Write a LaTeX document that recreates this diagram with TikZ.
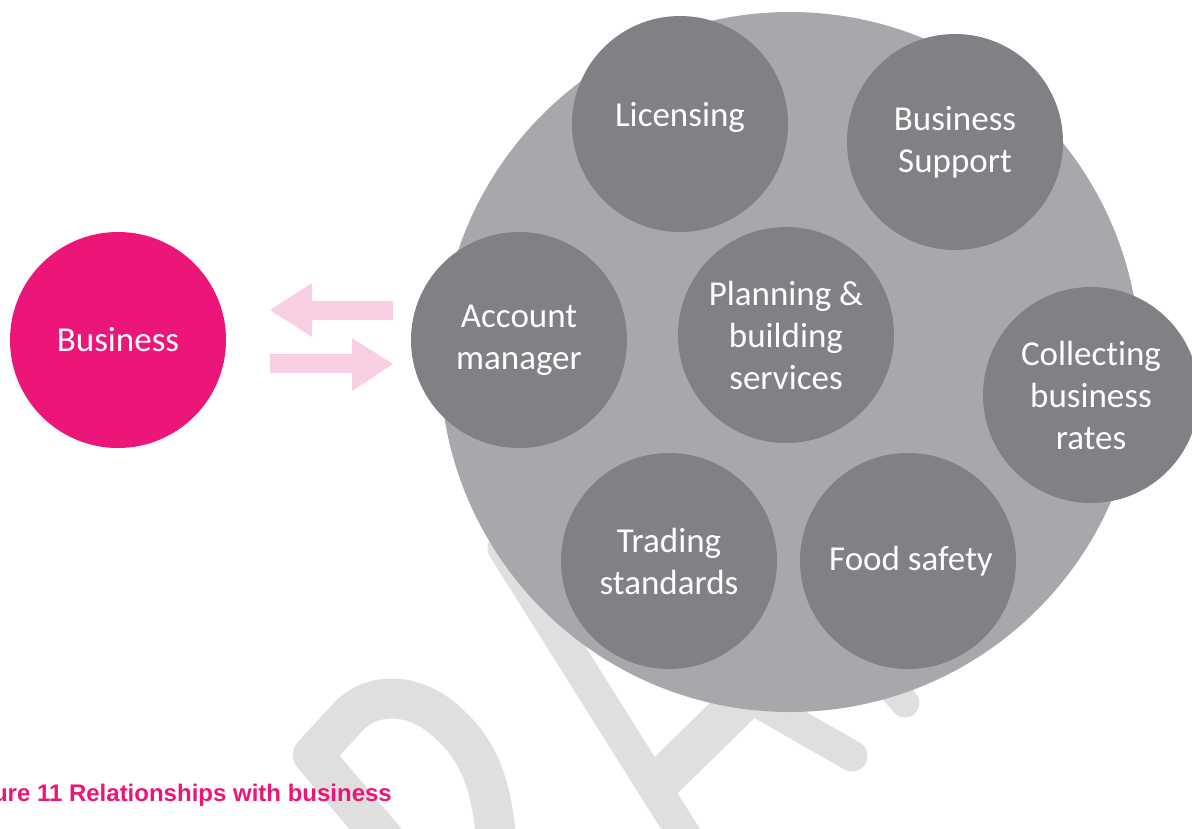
\documentclass[tikz,border=0pt]{standalone}
\usepackage{fontspec}
\setmainfont{Carlito}[Ligatures=NoCommon]
\newfontfamily\capfont{Liberation Sans}
\definecolor{bizpink}{HTML}{EC1679}
\definecolor{arrowpink}{HTML}{F9D0E3}
\definecolor{outergrey}{HTML}{A7A8AC}
\definecolor{innergrey}{HTML}{808185}
\definecolor{wmgrey}{HTML}{DFDFDF}
\begin{document}
\begin{tikzpicture}[x=1pt,y=-1pt,
  svc/.style={circle, fill=innergrey, minimum size=216pt, inner sep=0pt,
    text=white, align=center, font=\fontsize{35}{42}\selectfont},
  wm/.style={draw=wmgrey, line join=round, line cap=round},
  wmbutt/.style={draw=wmgrey, line join=round, line cap=butt},
  bigarrow/.style={fill=arrowpink}]
\useasboundingbox (0,0) rectangle (1192,828);
\clip (0,0) rectangle (1192,828);
% watermark (partly hidden)
\draw[wm, line width=40pt] (400,858) -- (313,755) -- (350,715)
  .. controls (372,693) and (415,690) .. (450,725)
  .. controls (480,752) and (495,790) .. (497,860);
\draw[wm, line width=33pt] (700,860) -- (504,548) -- (600,456);
\draw[wmbutt, line width=42pt] (655,786) -- (747,696) -- (770,672);
\draw[wm, line width=31pt] (747,696) -- (852,756);
\draw[wm, line width=29pt] (868,660) -- (905,703);
% main circle
\node[circle, fill=outergrey, minimum size=700pt, inner sep=0pt] (big) at (790,362) {};
\node[svc] (lic) at (680,124) {\raisebox{5pt}[22pt][7pt]{Licensing}};
\node[svc] (bs) at (955,142) {Business\\Support};
\node[svc] (acc) at (519,340) {Account\\manager};
\node[svc] (plan) at (786,335) {Planning \&\\building\\services};
\node[svc] (col) at (1091,395) {Collecting\\business\\rates};
\node[svc] (trad) at (669,561) {Trading\\standards};
\node[svc] (food) at (908,561) {\hspace{6pt}Food safety};
% business
\node[svc, fill=bizpink] (biz) at (118,340) {Business};
% arrows
\fill[bigarrow] (393,301) -- (312,301) -- (312,283) -- (270,310) -- (312,337) -- (312,320) -- (393,320) -- cycle;
\fill[bigarrow] (270,354) -- (352,354) -- (352,338) -- (393,364) -- (352,391) -- (352,373) -- (270,373) -- cycle;
% caption
\node[anchor=base east, inner sep=0pt, text=bizpink,
  font=\capfont\bfseries\fontsize{24}{28}\selectfont] (cap) at (392,801)
  {Figure 11 Relationships with business};
\end{tikzpicture}
\end{document}
